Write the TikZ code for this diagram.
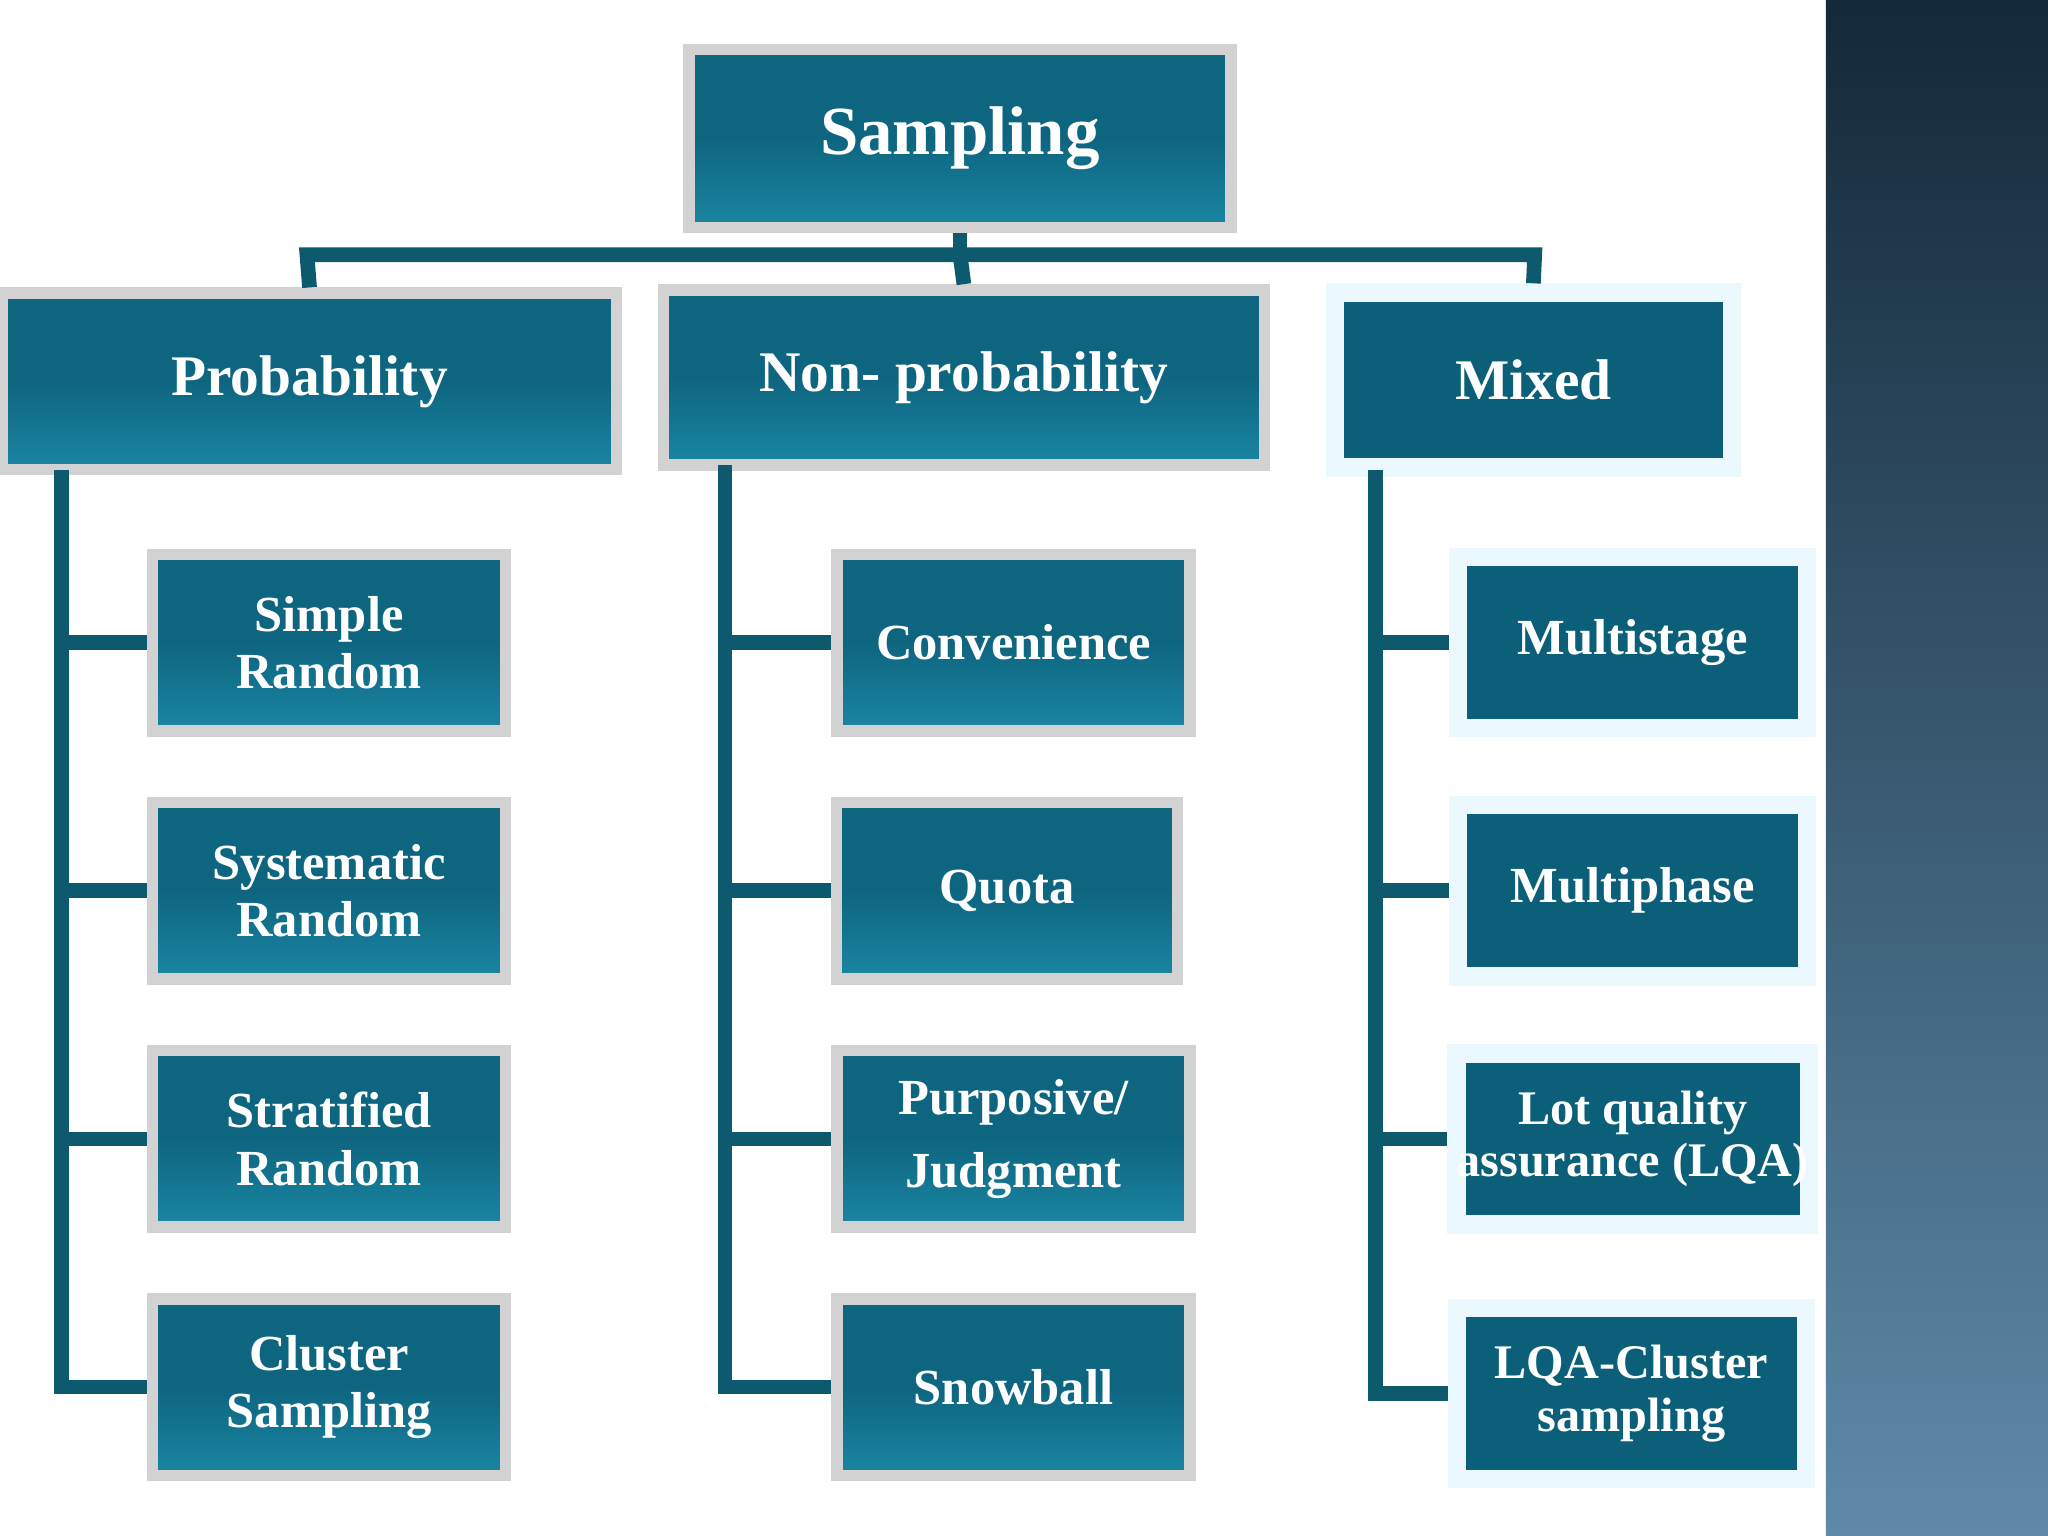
\documentclass[tikz,border=0pt]{standalone}
\usepackage{fontspec}
\setmainfont{Liberation Serif}
\definecolor{boxA}{HTML}{0E6580}
\definecolor{boxB}{HTML}{1A86A3}
\definecolor{plainbox}{HTML}{0B5F78}
\definecolor{lnc}{HTML}{0D5A6E}
\definecolor{panelT}{HTML}{14293A}
\definecolor{panelB}{HTML}{5E8AA8}
\begin{document}
\begin{tikzpicture}[x=0.01cm,y=-0.01cm,
  bev/.style={draw=gray!35,line width=2.5pt,top color=boxA,bottom color=boxB,middle color=boxA,
    text=white,font=\bfseries,align=center,inner sep=0pt},
  pl/.style={draw=cyan!8,line width=4pt,fill=plainbox,text=white,font=\bfseries,align=center,inner sep=0pt},
  ln/.style={draw=lnc,line width=3.2pt}]
\useasboundingbox (0,0) rectangle (1568,1176);
\fill[white] (0,0) rectangle (1398,1176);
\shade[top color=panelT,bottom color=panelB] (1398,0) rectangle (1568,1176);
% top
\node[bev,minimum width=415\pgflinewidth*0+4.15cm,minimum height=1.36cm,font=\bfseries\fontsize{15}{18}\selectfont] (S) at (735,106) {Sampling};
\node[bev,minimum width=4.7cm,minimum height=1.35cm,font=\bfseries\fontsize{12.5}{15}\selectfont] (P) at (237,292) {Probability};
\node[bev,minimum width=4.6cm,minimum height=1.34cm,font=\bfseries\fontsize{12.5}{15}\selectfont] (N) at (738,289) {Non- probability};
\node[pl,minimum width=3.04cm,minimum height=1.34cm,font=\bfseries\fontsize{12.5}{15}\selectfont] (M) at (1174,291) {Mixed};
\coordinate (j) at (735,195);
\draw[ln] (S.south) -- (j);
\draw[ln] (P.north) -- (235,195) -- (1175,195) -- (M.north);
\draw[ln] (j) -- (N.north);
% columns
\tikzset{sm/.style={minimum width=2.7cm,minimum height=1.35cm,font=\bfseries\fontsize{11}{12.5}\selectfont}}
\node[bev,sm] (p1) at (252,492) {Simple\\Random};
\node[bev,sm] (p2) at (252,682) {Systematic\\Random};
\node[bev,sm] (p3) at (252,872) {Stratified\\Random};
\node[bev,sm] (p4) at (252,1062) {Cluster\\Sampling};
\node[bev,sm] (n1) at (776,492) {Convenience};
\node[bev,sm,minimum width=2.61cm] (n2) at (771,682) {Quota};
\node[bev,sm,font=\bfseries\fontsize{11}{16}\selectfont] (n3) at (776,872) {Purposive/\\Judgment};
\node[bev,sm] (n4) at (776,1062) {Snowball};
\node[pl,sm,minimum width=2.67cm,minimum height=1.31cm] (m1) at (1250,492) {Multistage};
\node[pl,sm,minimum width=2.67cm,minimum height=1.31cm] (m2) at (1250,682) {Multiphase};
\node[pl,sm,minimum width=2.67cm,minimum height=1.31cm,font=\bfseries\fontsize{10.5}{11.5}\selectfont] (m3) at (1250,872) {Lot quality\\assurance (LQA)};
\node[pl,sm,minimum width=2.67cm,minimum height=1.31cm,font=\bfseries\fontsize{10.5}{11.5}\selectfont] (m4) at (1249,1067) {LQA-Cluster\\sampling};
\draw[ln] (47,360) -- (47,1062) -- (p4.west);
\foreach \n in {p1,p2,p3} \draw[ln] (47,0 |- \n.west) -- (\n.west);
\draw[ln] (555,356) -- (555,1062) -- (n4.west);
\foreach \n in {n1,n2,n3} \draw[ln] (555,0 |- \n.west) -- (\n.west);
\draw[ln] (1053,360) -- (1053,1067) -- (m4.west);
\foreach \n in {m1,m2,m3} \draw[ln] (1053,0 |- \n.west) -- (\n.west);
\end{tikzpicture}
\end{document}
